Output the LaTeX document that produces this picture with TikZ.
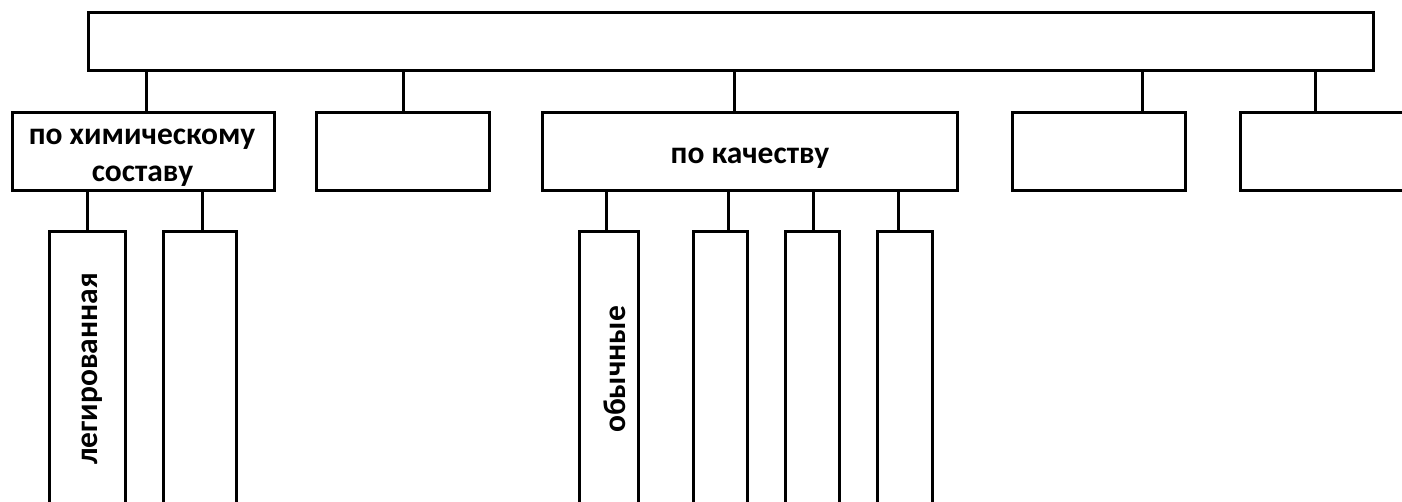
\documentclass[tikz,border=0pt]{standalone}
\usepackage{fontspec}
\setmainfont{Carlito}
\begin{document}
\begin{tikzpicture}[x=1pt,y=-1pt,
  box/.style={draw=black, line width=3pt, inner sep=0pt, outer sep=0pt},
  txt/.style={inner sep=0pt, font=\bfseries\fontsize{31.5}{37}\selectfont},
  conn/.style={draw=black, line width=3pt}]
\useasboundingbox (0,0) rectangle (1402,502);
\clip (0,0) rectangle (1402,502);
% root
\node[box, minimum width=1285pt, minimum height=58pt] (root) at (730.5,42) {};
% second row
\node[box, minimum width=262pt, minimum height=78pt] (c1) at (143,152) {};
\node[box, minimum width=173pt, minimum height=78pt] (c2) at (402.5,152) {};
\node[box, minimum width=415pt, minimum height=78pt] (c3) at (749.5,152) {};
\node[box, minimum width=173pt, minimum height=78pt] (c4) at (1098.5,152) {};
\node[box, minimum width=173pt, minimum height=78pt] (c5) at (1326.5,152) {};
% third row (tall boxes running off the page)
\node[box, minimum width=76pt, minimum height=328pt] (g1) at (87,396) {};
\node[box, minimum width=73pt, minimum height=328pt] (g2) at (199.5,396) {};
\node[box, minimum width=59pt, minimum height=328pt] (q1) at (608.5,396) {};
\node[box, minimum width=54pt, minimum height=328pt] (q2) at (720,396) {};
\node[box, minimum width=54pt, minimum height=328pt] (q3) at (812,396) {};
\node[box, minimum width=55pt, minimum height=328pt] (q4) at (904.5,396) {};
% texts
\node[txt, anchor=base] (tc1a) at (142,145) {по химическому};
\node[txt, anchor=base] (tc1b) at (142.5,182) {составу};
\node[txt, anchor=base] (tc3) at (750,164) {по качеству};
\node[txt, rotate=90, anchor=base west] (tg1) at (97,465) {легированная};
\node[txt, rotate=90, anchor=base west] (tq1) at (625,433) {обычные};
% connectors
\draw[conn] (root.south -| 146,0) -- (c1.north -| 146,0);
\draw[conn] (root.south -| 403,0) -- (c2.north -| 403,0);
\draw[conn] (root.south -| 734,0) -- (c3.north -| 734,0);
\draw[conn] (root.south -| 1142,0) -- (c4.north -| 1142,0);
\draw[conn] (root.south -| 1315,0) -- (c5.north -| 1315,0);
\draw[conn] (c1.south -| 87,0) -- (g1.north -| 87,0);
\draw[conn] (c1.south -| 202,0) -- (g2.north -| 202,0);
\draw[conn] (c3.south -| 606,0) -- (q1.north -| 606,0);
\draw[conn] (c3.south -| 728,0) -- (q2.north -| 728,0);
\draw[conn] (c3.south -| 813,0) -- (q3.north -| 813,0);
\draw[conn] (c3.south -| 898,0) -- (q4.north -| 898,0);
\end{tikzpicture}
\end{document}
